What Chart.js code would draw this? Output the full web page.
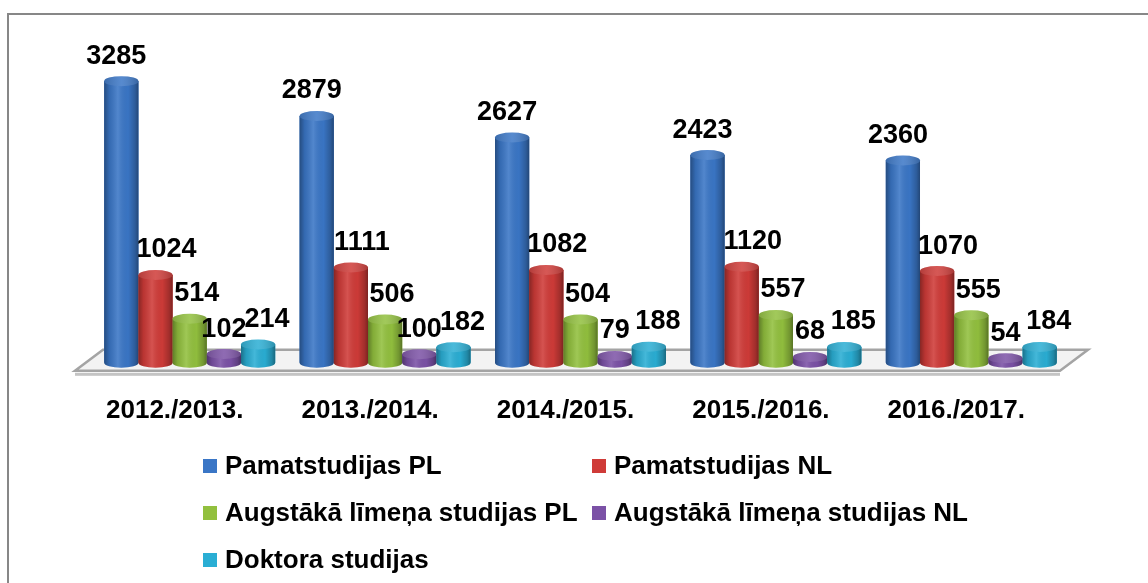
<!DOCTYPE html>
<html>
<head>
<meta charset="utf-8">
<script src="https://cdn.jsdelivr.net/npm/chart.js@4/dist/chart.umd.min.js"></script>
<style>
  body { margin: 0; background: #fff; overflow: hidden; }
  #frame { position: absolute; left: 7px; top: 13px; width: 1200px; height: 700px; border: 2px solid #878787; }
  #wrap { position: absolute; left: 0; top: 0; width: 1148px; height: 583px; }
</style>
</head>
<body>
<div id="frame"></div>
<div id="wrap"><canvas id="studChart"></canvas></div>
<script>
const years = ["2012./2013.", "2013./2014.", "2014./2015.", "2015./2016.", "2016./2017."];
const pamatPL = [3285, 2879, 2627, 2423, 2360];
const pamatNL = [1024, 1111, 1082, 1120, 1070];
const augstPL = [514, 506, 504, 557, 555];
const augstNL = [102, 100, 79, 68, 54];
const doktora = [214, 182, 188, 185, 184];
const seriesNames = [
  "Pamatstudijas PL",
  "Pamatstudijas NL",
  "Augstākā līmeņa studijas PL",
  "Augstākā līmeņa studijas NL",
  "Doktora studijas",
];
const seriesColors = ["#3a76c6", "#cf3b38", "#92c03e", "#7b51a6", "#2aaed4"];

const FONT = "'Liberation Sans', Arial, sans-serif";

// 3D floor under the bars
const floorPlugin = {
  id: "floor",
  beforeDatasetsDraw(chart) {
    const { ctx, chartArea: a, scales } = chart;
    const zy = scales.y.getPixelForValue(0);
    const fy = zy + 8, by = zy - 13;
    const fl = a.left - 17, w = a.right - a.left + 8, sk = 28;
    ctx.save();
    ctx.beginPath();
    ctx.moveTo(fl, fy);
    ctx.lineTo(fl + sk, by);
    ctx.lineTo(fl + sk + w, by);
    ctx.lineTo(fl + w, fy);
    ctx.closePath();
    ctx.fillStyle = "#f3f3f3";
    ctx.fill();
    ctx.strokeStyle = "#a4a4a4";
    ctx.lineWidth = 2.5;
    ctx.stroke();
    ctx.fillStyle = "#c4c4c4";
    ctx.fillRect(fl, fy + 2, w, 3);
    ctx.restore();
  },
};

function lighten(hex, amt) {
  const n = parseInt(hex.slice(1), 16);
  let r = (n >> 16) & 255, g = (n >> 8) & 255, b = n & 255;
  r = Math.round(r + (255 - r) * amt);
  g = Math.round(g + (255 - g) * amt);
  b = Math.round(b + (255 - b) * amt);
  return `rgb(${r},${g},${b})`;
}

// cylinder look + value labels
const labelOffsets = [-5, 11, 7, 0, 9];
const cylinderPlugin = {
  id: "cylinders",
  afterDatasetsDraw(chart) {
    const { ctx } = chart;
    ctx.save();
    chart.data.datasets.forEach((ds, i) => {
      const meta = chart.getDatasetMeta(i);
      meta.data.forEach((el) => {
        const { x, y, base, width } = el.getProps(["x", "y", "base", "width"], true);
        const l = x - width / 2, r = x + width / 2, rx = width / 2, ry = 5;
        const shade = ctx.createLinearGradient(l, 0, r, 0);
        shade.addColorStop(0, "rgba(0,0,0,0.35)");
        shade.addColorStop(0.15, "rgba(0,0,0,0.1)");
        shade.addColorStop(0.4, "rgba(255,255,255,0.12)");
        shade.addColorStop(0.7, "rgba(0,0,0,0.02)");
        shade.addColorStop(0.9, "rgba(0,0,0,0.22)");
        shade.addColorStop(1, "rgba(0,0,0,0.4)");
        ctx.beginPath();
        ctx.moveTo(l, y);
        ctx.lineTo(l, base);
        ctx.ellipse(x, base, rx, ry, 0, Math.PI, 0, true);
        ctx.lineTo(r, y);
        ctx.closePath();
        ctx.fillStyle = ds.backgroundColor;
        ctx.fill();
        ctx.fillStyle = shade;
        ctx.fill();
        // top
        ctx.beginPath();
        ctx.ellipse(x, y, rx, ry, 0, 0, Math.PI * 2);
        ctx.fillStyle = lighten(ds.backgroundColor, 0.05);
        ctx.fill();
        const tg = ctx.createLinearGradient(l, 0, r, 0);
        tg.addColorStop(0, "rgba(0,0,0,0.15)");
        tg.addColorStop(0.5, "rgba(255,255,255,0.1)");
        tg.addColorStop(1, "rgba(0,0,0,0.2)");
        ctx.fillStyle = tg;
        ctx.fill();
      });
    });
    ctx.fillStyle = "#000";
    ctx.font = `bold 27px ${FONT}`;
    ctx.textAlign = "center";
    ctx.textBaseline = "middle";
    chart.data.datasets.forEach((ds, i) => {
      chart.getDatasetMeta(i).data.forEach((el, j) => {
        ctx.fillText(String(ds.data[j]), el.x + labelOffsets[i], el.y - 25);
      });
    });
    ctx.restore();
  },
};

// two-column legend
const legendPlugin = {
  id: "twoColLegend",
  afterDraw(chart) {
    const { ctx } = chart;
    const colX = [203, 592];
    ctx.save();
    ctx.font = `bold 26px ${FONT}`;
    ctx.textBaseline = "middle";
    ctx.textAlign = "left";
    chart.data.datasets.forEach((ds, i) => {
      const x = colX[i % 2];
      const y = 466 + Math.floor(i / 2) * 47;
      ctx.fillStyle = ds.backgroundColor;
      ctx.fillRect(x, y - 7, 14, 14);
      ctx.fillStyle = "#000";
      ctx.fillText(ds.label, x + 22, y + 1);
    });
    ctx.restore();
  },
};

const seriesData = [pamatPL, pamatNL, augstPL, augstNL, doktora];

new Chart(document.getElementById("studChart"), {
  type: "bar",
  data: {
    labels: years,
    datasets: seriesData.map((d, i) => ({
      label: seriesNames[i],
      data: d,
      backgroundColor: seriesColors[i],
      borderWidth: 0,
      categoryPercentage: 0.875,
      barPercentage: 1.0,
    })),
  },
  options: {
    responsive: true,
    maintainAspectRatio: false,
    animation: false,
    layout: { padding: { left: 92, right: 79, top: 37, bottom: 133 } },
    plugins: { legend: { display: false }, tooltip: { enabled: false } },
    scales: {
      x: {
        grid: { display: false },
        border: { display: false },
        ticks: {
          color: "#000",
          padding: 24,
          labelOffset: -15,
          font: { family: FONT, size: 26, weight: "bold", lineHeight: 1.2 },
        },
      },
      y: { display: false, min: 0, max: 3800 },
    },
  },
  plugins: [floorPlugin, cylinderPlugin, legendPlugin],
});
</script>
</body>
</html>
